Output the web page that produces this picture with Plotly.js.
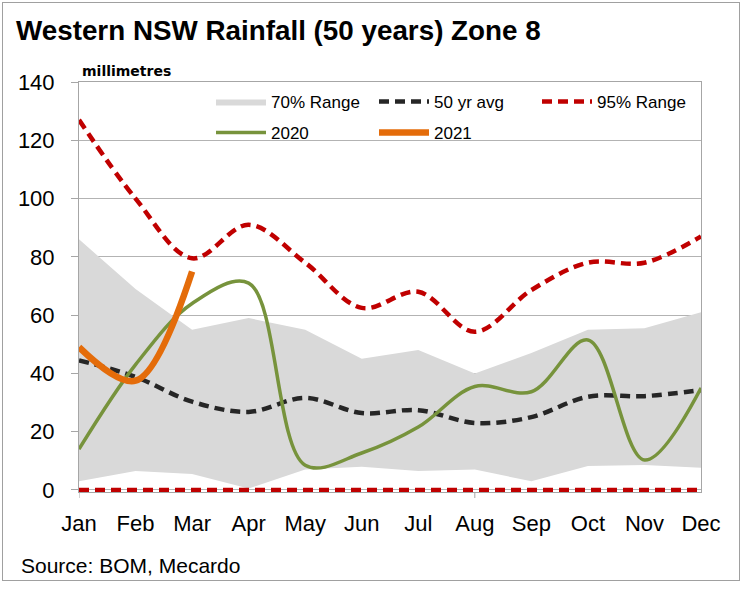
<!DOCTYPE html>
<html>
<head>
<meta charset="utf-8">
<script src="https://cdn.plot.ly/plotly-3.0.1.min.js"></script>
<style>
  html, body { margin: 0; padding: 0; background: #ffffff; }
  #frame { position: absolute; left: 2px; top: 2px; width: 736px; height: 577px; border: 1px solid #a0a0a0; }
  #chart { position: absolute; left: 0; top: 0; width: 742px; height: 589px; }
</style>
</head>
<body>
<div id="frame"></div>
<div id="chart"></div>
<script>
// ---- data ----
var months = ['Jan', 'Feb', 'Mar', 'Apr', 'May', 'Jun', 'Jul', 'Aug', 'Sep', 'Oct', 'Nov', 'Dec'];
var range70Low  = [3, 6.5, 5.5, 0.5, 7, 8, 6.5, 7, 3, 8.2, 8.6, 7.6];
var range70High = [86, 69, 55, 59, 55, 45, 48, 40, 47, 55, 55.5, 61];
var avg50       = [44.5, 38.8, 30.3, 26.8, 31.6, 26.4, 27.4, 23, 25, 32, 32.2, 34.3];
var range95High = [127, 100, 79.5, 91, 78, 62.5, 68, 54.3, 68.6, 78, 78, 87];
var range95Low  = [0, 0, 0, 0, 0, 0, 0, 0, 0, 0, 0, 0];
var y2020       = [14, 43, 64, 71, 8.5, 12.7, 21.6, 35.5, 33.7, 51.5, 10.3, 35];
var months2021  = ['Jan', 'Feb', 'Mar'];
var y2021       = [49, 37.5, 75];
var yTicks      = [0, 20, 40, 60, 80, 100, 120, 140];

var FONT = 'Liberation Sans, Arial, sans-serif';

var traces = [
  { x: months, y: range70Low, type: 'scatter', mode: 'lines', line: { width: 0, color: 'rgba(0,0,0,0)' },
    showlegend: false, hoverinfo: 'skip' },
  { x: months, y: range70High, type: 'scatter', mode: 'lines', fill: 'tonexty', fillcolor: '#d9d9d9',
    line: { width: 0, color: '#d9d9d9' }, name: '70% Range', legend: 'legend', legendrank: 1 },
  { x: months, y: avg50, type: 'scatter', mode: 'lines', name: '50 yr avg', legend: 'legend', legendrank: 2,
    line: { color: '#262626', width: 4.5, dash: '10px,6px', shape: 'spline', smoothing: 1 } },
  { x: months, y: range95High, type: 'scatter', mode: 'lines', name: '95% Range', legend: 'legend', legendrank: 3,
    line: { color: '#c00000', width: 4.5, dash: '10px,6px', shape: 'spline', smoothing: 1 } },
  { x: months, y: range95Low, type: 'scatter', mode: 'lines', name: '95% Range', showlegend: false,
    line: { color: '#c00000', width: 4.5, dash: '10px,6px' } },
  { x: months, y: y2020, type: 'scatter', mode: 'lines', name: '2020', legend: 'legend2', legendrank: 1,
    line: { color: '#77933c', width: 3.5, shape: 'spline', smoothing: 1 } },
  { x: months2021, y: y2021, type: 'scatter', mode: 'lines', name: '2021', legend: 'legend2', legendrank: 2,
    line: { color: '#e46c0a', width: 6.5, shape: 'spline', smoothing: 1 } }
];

var legendCommon = {
  orientation: 'h', xref: 'paper', yref: 'paper', xanchor: 'left', yanchor: 'top',
  traceorder: 'normal', x: (211 - 79) / 622,
  bgcolor: 'rgba(0,0,0,0)', borderwidth: 0, itemwidth: 50, entrywidth: 98, entrywidthmode: 'pixels',
  font: { family: FONT, size: 17, color: '#000000' }, itemclick: false, itemdoubleclick: false
};

var layout = {
  width: 742, height: 589,
  margin: { l: 79, r: 41, t: 82, b: 97 },
  paper_bgcolor: 'rgba(0,0,0,0)',
  plot_bgcolor: 'rgba(0,0,0,0)',
  showlegend: true,
  title: {
    text: '<b>Western NSW Rainfall (50 years) Zone 8</b>',
    xref: 'container', yref: 'container', x: 16 / 742, xanchor: 'left',
    y: 1 - 30 / 589, yanchor: 'middle',
    font: { family: FONT, size: 27.8, color: '#000000' }
  },
  xaxis: {
    type: 'category', range: [0, 11], fixedrange: true,
    showgrid: false, zeroline: false,
    showline: true, linecolor: '#a6a6a6', linewidth: 1, mirror: true,
    ticks: '', ticklabelstandoff: 12,
    tickfont: { family: FONT, size: 22, color: '#000000' }
  },
  yaxis: {
    range: [-0.69, 140], tickmode: 'array', tickvals: yTicks, fixedrange: true,
    showgrid: true, gridcolor: '#b3b3b3', gridwidth: 1, zeroline: false,
    showline: true, linecolor: '#a6a6a6', linewidth: 1, mirror: true,
    ticks: 'outside', ticklen: 7, tickcolor: '#a6a6a6', ticklabelstandoff: 12,
    tickfont: { family: FONT, size: 22, color: '#000000' }
  },
  legend: Object.assign({}, legendCommon, { y: (492 - 84) / 410 }),
  legend2: Object.assign({}, legendCommon, { y: (492 - 115) / 410 }),
  shapes: [
    { type: 'rect', xref: 'paper', yref: 'paper', layer: 'between',
      x0: (207 - 79) / 622, x1: (697 - 79) / 622, y0: (492 - 146) / 410, y1: (492 - 86) / 410,
      fillcolor: '#ffffff', line: { width: 0 } },
    { type: 'line', xref: 'x', yref: 'paper', x0: months[0], x1: months[0], y0: 0, y1: -6 / 410,
      line: { color: '#a6a6a6', width: 1 } },
    { type: 'line', xref: 'x', yref: 'paper', x0: months[7], x1: months[7], y0: 0, y1: -6 / 410,
      line: { color: '#a6a6a6', width: 1 } }
  ],
  annotations: [
    { text: '<b>millimetres</b>', xref: 'paper', yref: 'paper', x: 1 / 622, xanchor: 'left',
      y: (492 - 71) / 410, yanchor: 'middle', showarrow: false,
      font: { family: 'DejaVu Sans, sans-serif', size: 14, color: '#000000' } },
    { text: 'Source: BOM, Mecardo', xref: 'paper', yref: 'paper', x: (19 - 79) / 622, xanchor: 'left',
      y: (492 - 565) / 410, yanchor: 'middle', showarrow: false,
      font: { family: FONT, size: 21, color: '#000000' } }
  ]
};

Plotly.newPlot('chart', traces, layout, { displayModeBar: false, staticPlot: true });
</script>
</body>
</html>
